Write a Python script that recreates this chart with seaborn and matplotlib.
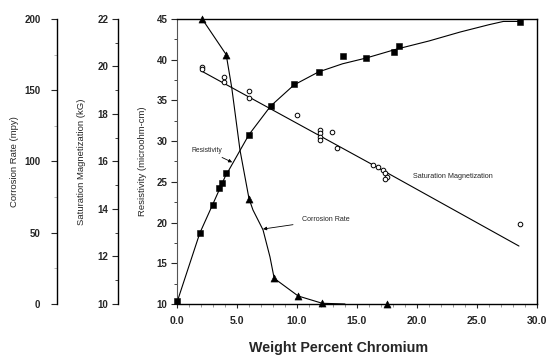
import matplotlib
matplotlib.use("Agg")
import matplotlib.pyplot as plt
from matplotlib.ticker import MultipleLocator, FormatStrFormatter
import seaborn as sns

# resistivity (filled squares, left axis 10-45)
res_cr = [0.0, 1.9, 3.0, 3.5, 3.75, 4.1, 6.0, 7.8, 9.75, 11.8, 13.8, 15.75, 18.1, 18.5, 28.6]
res_val = [10.4, 18.7, 22.2, 24.2, 24.9, 26.1, 30.8, 34.3, 37.0, 38.5, 40.5, 40.2, 41.0, 41.7, 44.6]
# smooth curve drawn through the resistivity points
res_curve_cr = [0.0, 1.9, 3.0, 4.0, 6.0, 7.8, 9.75, 11.8, 13.8, 15.75, 18.3, 21.0, 23.6, 26.0, 27.2, 28.6]
res_curve_val = [10.2, 18.7, 22.3, 25.6, 30.8, 34.3, 36.9, 38.5, 39.5, 40.2, 41.3, 42.3, 43.4, 44.3, 44.7, 44.7]

# saturation magnetization (open circles, kG)
mag_cr = [2.1, 2.1, 3.9, 3.9, 6.0, 6.0, 10.0, 11.9, 11.9, 11.9, 11.9, 12.9, 13.3,
          16.3, 16.75, 17.2, 17.3, 17.5, 17.3, 28.6]
mag_val = [19.98, 19.9, 19.55, 19.35, 18.95, 18.67, 17.96, 17.33, 17.2, 17.03, 16.9, 17.24, 16.57,
           15.85, 15.77, 15.64, 15.5, 15.35, 15.26, 13.35]
mag_line_cr = [2.0, 16.1, 28.5]
mag_line_val = [19.82, 15.92, 12.44]

# corrosion rate (filled triangles, mpy)
cor_cr = [2.1, 4.1, 6.0, 8.1, 10.1, 12.1, 17.5]
cor_val = [200, 175, 74, 18, 5.6, 0.5, 0]
cor_curve_cr = [2.1, 4.1, 4.56, 5.25, 6.0, 6.33, 7.17, 7.75, 8.1, 10.1, 12.1, 14.0]
cor_curve_val = [200, 175, 152, 108, 74, 66, 52, 33, 18, 5.6, 0.5, 0]

sns.set_style("ticks")
plt.rcParams['font.family'] = ['Liberation Sans', 'DejaVu Sans']

fig = plt.figure(figsize=(5.5, 3.55), dpi=100)
ax = fig.add_axes([0.3218, 0.1437, 0.6545, 0.8028])
ax_mag = ax.twinx()
ax_cor = ax.twinx()

line_kw = dict(color="black", lw=0.8, estimator=None, sort=False)

sns.lineplot(x=res_curve_cr, y=res_curve_val, ax=ax, **line_kw)
sns.scatterplot(x=res_cr, y=res_val, ax=ax, marker="s", s=22, color="black",
                edgecolor="black", clip_on=False, zorder=5)

sns.lineplot(x=mag_line_cr, y=mag_line_val, ax=ax_mag, **line_kw)
sns.scatterplot(x=mag_cr, y=mag_val, ax=ax_mag, marker="o", s=11, facecolor="white",
                edgecolor="black", linewidth=0.7, clip_on=False, zorder=5)

sns.lineplot(x=cor_curve_cr, y=cor_curve_val, ax=ax_cor, **line_kw)
sns.scatterplot(x=cor_cr, y=cor_val, ax=ax_cor, marker="^", s=26, color="black",
                edgecolor="black", clip_on=False, zorder=5)

# limits / ticks
for a in (ax, ax_mag, ax_cor):
    a.set_xlim(0, 30)
ax.set_ylim(10, 45)
ax_mag.set_ylim(10, 22)
ax_cor.set_ylim(0, 200)

ax.xaxis.set_major_locator(MultipleLocator(5))
ax.xaxis.set_minor_locator(MultipleLocator(1))
ax.xaxis.set_major_formatter(FormatStrFormatter("%.1f"))
ax.yaxis.set_major_locator(MultipleLocator(5))
ax.yaxis.set_minor_locator(MultipleLocator(2.5))
ax_mag.yaxis.set_major_locator(MultipleLocator(2))
ax_mag.yaxis.set_minor_locator(MultipleLocator(1))
ax_cor.yaxis.set_major_locator(MultipleLocator(50))
ax_cor.yaxis.set_minor_locator(MultipleLocator(25))

for s in ax.spines.values():
    s.set_color("black")
    s.set_linewidth(1.0)
ax.spines["left"].set_color("#555555")
ax.spines["left"].set_linewidth(0.8)

for a, pos in ((ax_mag, -0.164), (ax_cor, -0.333)):
    a.spines["right"].set_visible(False)
    a.spines["top"].set_visible(False)
    a.spines["bottom"].set_visible(False)
    a.spines["left"].set_visible(True)
    a.spines["left"].set_position(("axes", pos))
    a.spines["left"].set_color("black")
    a.spines["left"].set_linewidth(1.0)
    a.yaxis.set_ticks_position("left")
    a.yaxis.set_label_position("left")

ax.tick_params(axis="x", which="major", length=3, width=0.8, pad=6, labelsize=7.6)
ax.tick_params(axis="x", which="minor", length=2, width=0.6, color="#888888")
ax.tick_params(axis="y", which="major", length=4, width=0.8, pad=3, labelsize=7)
ax.tick_params(axis="y", which="minor", length=2.5, width=0.6)
ax.tick_params(right=False, top=False, which="both")
ax_mag.tick_params(axis="y", which="major", length=4, width=0.8, pad=3, labelsize=7)
ax_mag.tick_params(axis="y", which="minor", length=2.5, width=0.6)
ax_cor.tick_params(axis="y", which="major", length=4, width=0.8, pad=8, labelsize=7)
ax_cor.tick_params(axis="y", which="minor", length=2.5, width=0.6, color="#aaaaaa")
ax_mag.tick_params(axis="x", which="both", bottom=False, top=False, labelbottom=False, labeltop=False)
ax_cor.tick_params(axis="x", which="both", bottom=False, top=False, labelbottom=False, labeltop=False)

for a in (ax, ax_mag, ax_cor):
    for lab in a.get_yticklabels():
        lab.set_fontweight("bold")
for lab in ax.get_xticklabels():
    lab.set_fontweight("bold")

# axis labels
ax.set_ylabel("Resistivity (microohm-cm)", fontsize=6.8)
ax.yaxis.set_label_coords(-0.083, 0.5)
ax_mag.set_ylabel("Saturation Magnetization (kG)", fontsize=6.8)
ax_mag.yaxis.set_label_coords(-0.253, 0.5)
ax_cor.set_ylabel("Corrosion Rate (mpy)", fontsize=6.8)
ax_cor.yaxis.set_label_coords(-0.439, 0.5)
ax.set_xlabel("Weight Percent Chromium", fontsize=10.3, fontweight="bold")
ax.xaxis.set_label_coords(0.45, -0.13)

# curve annotations
arrow = dict(arrowstyle="-|>", color="black", lw=0.6, mutation_scale=5, shrinkA=1, shrinkB=0)
ax.annotate("Resistivity", xy=(4.6, 27.4), xytext=(3.75, 28.9), fontsize=4.9,
            ha="right", va="center", arrowprops=arrow)
ax_cor.annotate("Corrosion Rate", xy=(7.17, 52.6), xytext=(10.4, 59), fontsize=5.1,
                ha="left", va="center", arrowprops=dict(arrow, shrinkA=4))
ax_mag.text(19.7, 15.35, "Saturation Magnetization", fontsize=5.2, ha="left", va="center")

fig.savefig("out.png", dpi=100)
